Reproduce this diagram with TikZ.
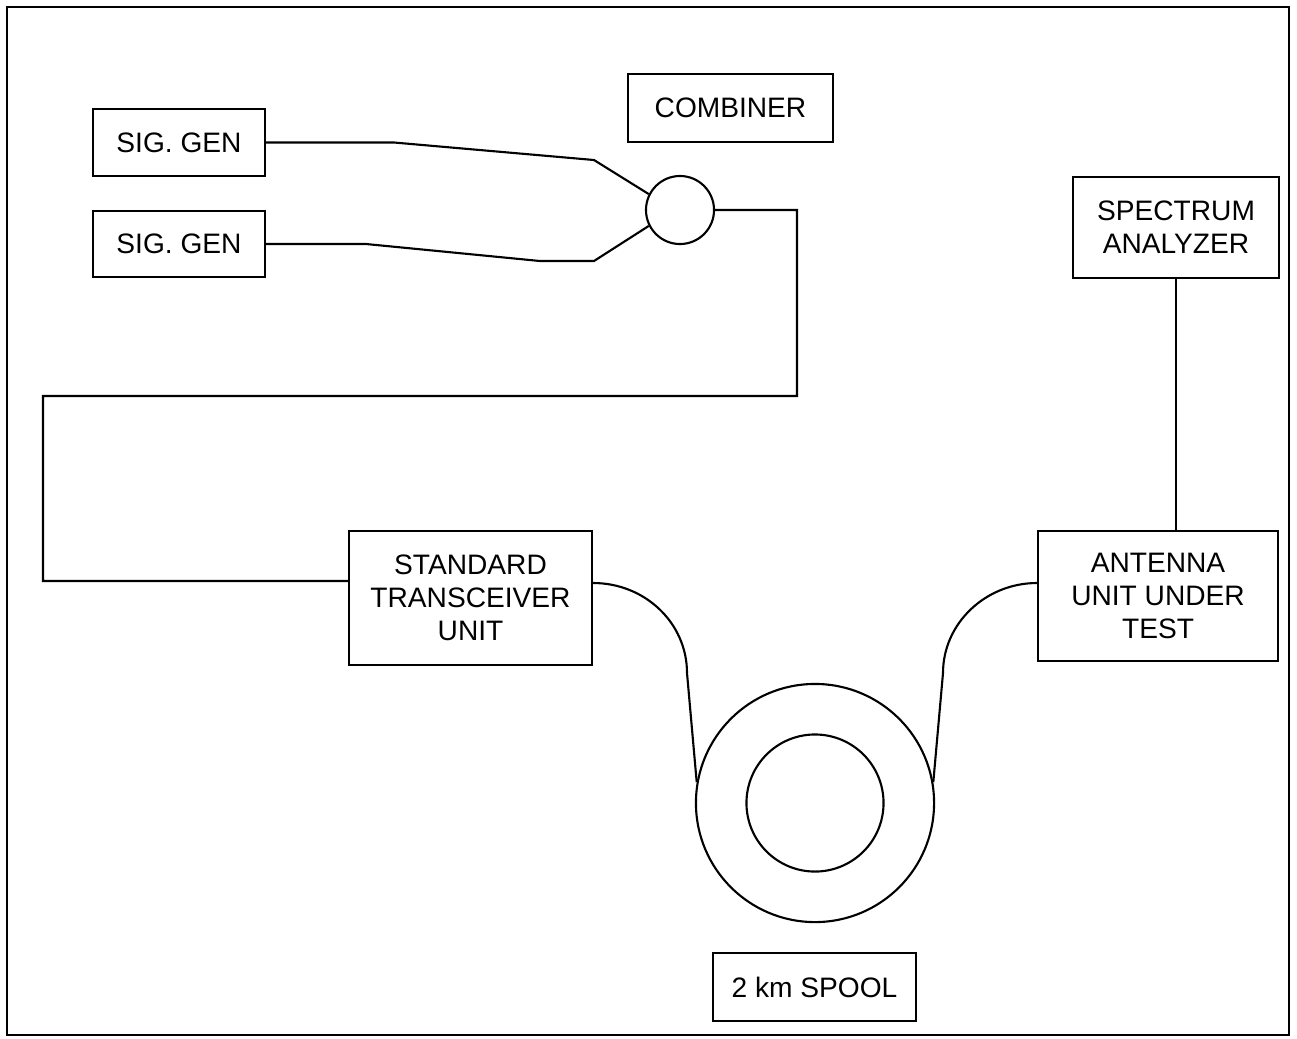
\documentclass[tikz,border=0pt]{standalone}
\usepackage{fontspec}
\setmainfont{Liberation Sans}
\usetikzlibrary{calc}
\tikzset{
  wire/.style={draw=black,line width=.6pt},
  unit/.style={draw=black,line width=.6pt,align=center,inner sep=0pt,
    font=\fontsize{8}{9.4}\selectfont},
  ring/.style={circle,draw=black,line width=.6pt,inner sep=0pt},
  border/.style={draw=black,line width=.8pt},
}
\begin{document}
\begin{tikzpicture}[x=.01cm,y=-.01cm]
\useasboundingbox (0,0) rectangle (1297,1038);
\draw[border] (7,7) rectangle (1289,1035);
\node[unit,minimum width=1.72cm,minimum height=.67cm] (gen1) at (179,142.5) {SIG. GEN};
\node[unit,minimum width=1.72cm,minimum height=.66cm] (gen2) at (179,244) {SIG. GEN};
\node[unit,minimum width=2.05cm,minimum height=.68cm] (combinerlabel) at (730.5,108) {COMBINER};
\node[ring,minimum size=.68cm] (comb) at (680,210) {};
\node[unit,minimum width=2.06cm,minimum height=1.01cm] (spectrum) at (1176,227.5) {SPECTRUM\\ANALYZER};
\node[unit,minimum width=2.43cm,minimum height=1.34cm] (standard) at (470.5,598) {STANDARD\\TRANSCEIVER\\UNIT};
\node[unit,minimum width=2.40cm,minimum height=1.30cm] (antenna) at (1158,596) {ANTENNA\\UNIT UNDER\\TEST};
\node[ring,minimum size=2.38cm] (spoolout) at (815,803) {};
\node[ring,minimum size=1.37cm] (spoolin) at (815,803) {};
\node[unit,minimum width=2.03cm,minimum height=.68cm] (spoollabel) at (814.5,987) {2 km SPOOL};
\draw[wire] (gen1.east) -- ++(128,0) -- (594,160) -- (comb.153);
\draw[wire] (gen2.east) -- ++(100,0) -- (540,261) -- (594,261) -- (comb.207);
\draw[wire] (comb.east) -| (797,396) -| (43,581) -- ([yshift=.17cm]standard.west);
\draw[wire] ([yshift=.15cm]standard.east) .. controls (645,583) and (687,623) .. (687,673) -- (spoolout.170);
\draw[wire] ([yshift=.13cm]antenna.west) .. controls (986,583) and (943,623) .. (943,673) -- (spoolout.10);
\draw[wire] (spectrum.south) -- (spectrum.south |- antenna.north);
\end{tikzpicture}
\end{document}
